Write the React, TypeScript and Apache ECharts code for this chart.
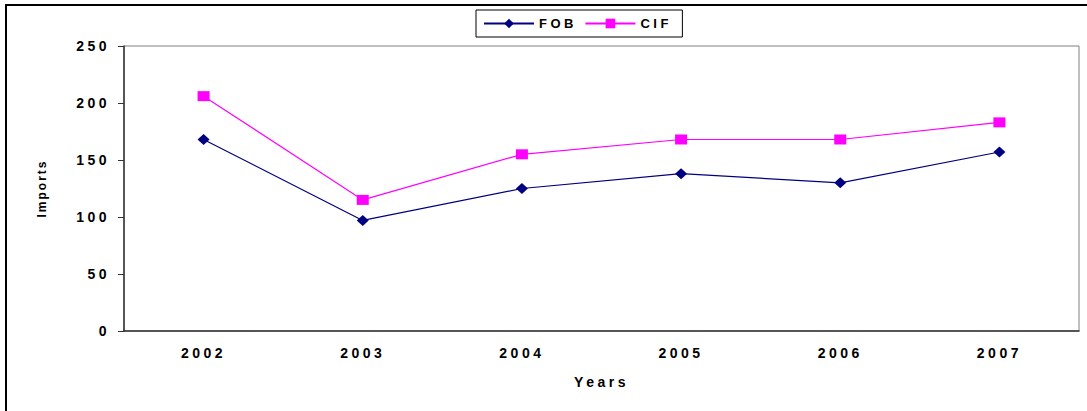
import React, { useEffect, useRef } from 'react';
import * as echarts from 'echarts';

const years = ['2002', '2003', '2004', '2005', '2006', '2007'];
const fob = [168, 97, 125, 138, 130, 157];
const cif = [206, 115, 155, 168, 168, 183];

// the original chart uses widely spaced bold Arial text
const textCss = `
#root svg text { letter-spacing: 3.5px; }
#root svg text[transform^="matrix(0"] { letter-spacing: 2px; }
`;

const App: React.FC = () => {
    const chartRef = useRef<HTMLDivElement>(null);

    useEffect(() => {
        if (!chartRef.current) return;
        const myChart = echarts.init(chartRef.current, null, { renderer: 'svg' });

        const font = { fontFamily: '"Liberation Sans", Arial, sans-serif', fontWeight: 'bold' as const, color: '#000' };

        const option: echarts.EChartsOption = {
            animation: false,
            backgroundColor: '#fff',
            graphic: [
                {
                    type: 'rect',
                    shape: { x: 6, y: 5, width: 1200, height: 600 },
                    style: { fill: 'none', stroke: '#000', lineWidth: 2 },
                    silent: true
                }
            ],
            legend: {
                left: 476,
                top: 10,
                padding: [7, 21, 7, 7],
                itemWidth: 50,
                itemHeight: 12,
                itemGap: 18,
                borderColor: '#000',
                borderWidth: 1,
                textStyle: { ...font, fontSize: 13 },
                data: ['FOB', 'CIF']
            },
            grid: {
                left: 124,
                right: 8,
                top: 46,
                bottom: 80,
                show: true,
                borderColor: '#808080',
                borderWidth: 1
            },
            xAxis: {
                type: 'category',
                data: years,
                name: 'Years',
                nameLocation: 'middle',
                nameGap: 44,
                nameTextStyle: { ...font, fontSize: 14 },
                axisLine: { lineStyle: { color: '#333', width: 1.5 } },
                axisTick: { length: 5, lineStyle: { color: '#333' } },
                axisLabel: { ...font, fontSize: 14, margin: 15 },
                splitLine: { show: false }
            },
            yAxis: {
                type: 'value',
                min: 0,
                max: 250,
                interval: 50,
                name: 'Imports',
                nameLocation: 'middle',
                nameGap: 76,
                nameRotate: 90,
                nameTextStyle: { ...font, fontSize: 12 },
                axisLine: { show: true, lineStyle: { color: '#333', width: 1.5 } },
                axisTick: { show: true, length: 6, lineStyle: { color: '#333' } },
                axisLabel: { ...font, fontSize: 14, margin: 14 },
                splitLine: { show: false }
            },
            series: [
                {
                    name: 'FOB',
                    type: 'line',
                    data: fob,
                    symbol: 'diamond',
                    symbolSize: [12, 11],
                    itemStyle: { color: '#000080' },
                    lineStyle: { color: '#000080', width: 1.2 }
                },
                {
                    name: 'CIF',
                    type: 'line',
                    data: cif,
                    symbol: 'rect',
                    symbolSize: [12, 10],
                    itemStyle: { color: '#FF00FF' },
                    lineStyle: { color: '#FF00FF', width: 1.2 }
                }
            ]
        };

        myChart.setOption(option);
        return () => {
            myChart.dispose();
        };
    }, []);

    return (
        <>
            <style>{textCss}</style>
            <div
                ref={chartRef}
                style={{ position: 'absolute', left: 0, top: 0, width: '1087px', height: '411px' }}
            />
        </>
    );
};

export default App;
